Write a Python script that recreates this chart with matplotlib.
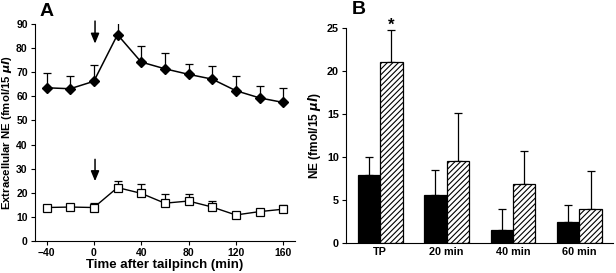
import matplotlib
matplotlib.use("Agg")
import matplotlib.pyplot as plt
import numpy as np

plt.rcParams['font.family'] = ['Liberation Sans', 'DejaVu Sans']
plt.rcParams['font.weight'] = 'bold'
plt.rcParams['hatch.linewidth'] = 0.8

# panel A data
time_min = [-40, -20, 0, 20, 40, 60, 80, 100, 120, 140, 160]
ne_diamond = [63.6, 63.2, 66.3, 85.7, 74.3, 71.5, 69.2, 67.2, 62.4, 59.4, 57.5]
ne_diamond_err = [6.1, 5.3, 6.6, 7.6, 6.7, 6.5, 4.1, 5.6, 6.2, 4.8, 5.8]
ne_square = [13.8, 14.0, 13.8, 22.1, 19.7, 15.6, 16.5, 14.0, 10.7, 12.1, 13.1]
ne_square_err = [1.0, 1.0, 2.0, 2.9, 3.8, 3.8, 3.1, 2.4, 1.0, 1.0, 1.9]

# panel B data
groups = ['TP', '20 min', '40 min', '60 min']
ne_black = [7.95, 5.6, 1.5, 2.5]
ne_black_err = [2.1, 2.9, 2.45, 1.9]
ne_hatch = [21.1, 9.6, 6.9, 3.95]
ne_hatch_err = [3.7, 5.6, 3.8, 4.4]

fig = plt.figure(figsize=(6.16, 2.73), dpi=100)
axA = fig.add_axes([0.0563, 0.1183, 0.4226, 0.7927])
axB = fig.add_axes([0.5612, 0.1088, 0.4344, 0.7875])

"""PANEL A"""
axA.errorbar(time_min, ne_diamond, yerr=[np.zeros(len(time_min)), ne_diamond_err],
             fmt='none', ecolor='black', elinewidth=0.9, capsize=3, capthick=0.9, zorder=1)
axA.errorbar(time_min, ne_square, yerr=[np.zeros(len(time_min)), ne_square_err],
             fmt='none', ecolor='black', elinewidth=0.9, capsize=3, capthick=0.9, zorder=1)
axA.plot(time_min, ne_diamond, color='black', lw=1.1, marker='D', ms=5.2,
         mfc='black', mec='black', zorder=3)
axA.plot(time_min, ne_square, color='black', lw=1.0, marker='s', ms=6,
         mfc='white', mec='black', mew=0.9, zorder=3)

arrow = dict(arrowstyle='-|>,head_length=0.6,head_width=0.25', color='black', lw=1.1)
axA.annotate('', xy=(1, 80.8), xytext=(1, 92.5), arrowprops=arrow)
axA.annotate('', xy=(1, 23.6), xytext=(1, 35.0), arrowprops=arrow)

axA.set_xlim(-50, 170)
axA.set_ylim(0, 90)
axA.set_xticks([-40, 0, 40, 80, 120, 160])
axA.set_yticks(range(0, 91, 10))
axA.spines['top'].set_visible(False)
axA.spines['right'].set_visible(False)
axA.tick_params(labelsize=7.5, length=3, width=0.8, pad=2)
axA.set_xlabel('Time after tailpinch (min)', fontsize=9.5, fontweight='bold', labelpad=1)
axA.set_ylabel('Extracellular NE (fmol/15 $\\mathit{\\mu l}$)', fontsize=8.2,
               fontweight='bold')
axA.yaxis.set_label_coords(-0.08, 0.5)
axA.text(0.02, 1.02, 'A', transform=axA.transAxes, fontsize=14, fontweight='bold',
         va='bottom', ha='left')

"""PANEL B"""
x = np.arange(len(groups))
w = 0.336
axB.bar(x - w / 2, ne_black, w, color='black', edgecolor='black', lw=0.9, zorder=2)
axB.bar(x + w / 2, ne_hatch, w, color='white', edgecolor='black', lw=0.9,
        hatch='//////', zorder=2)
axB.errorbar(x - w / 2, ne_black, yerr=[np.zeros(len(x)), ne_black_err], fmt='none',
             ecolor='black', elinewidth=0.9, capsize=3, capthick=0.9, zorder=1)
axB.errorbar(x + w / 2, ne_hatch, yerr=[np.zeros(len(x)), ne_hatch_err], fmt='none',
             ecolor='black', elinewidth=0.9, capsize=3, capthick=0.9, zorder=1)
axB.text(x[0] + w / 2, ne_hatch[0] + ne_hatch_err[0] - 0.3, '*', ha='center', va='bottom',
         fontsize=12, fontweight='bold')

axB.set_xlim(-0.52, 3.51)
axB.set_ylim(0, 25)
axB.set_xticks(x)
axB.set_xticklabels(groups)
axB.set_yticks(range(0, 26, 5))
axB.spines['top'].set_visible(False)
axB.spines['right'].set_visible(False)
axB.tick_params(axis='x', length=0, labelsize=7.8, pad=3)
axB.tick_params(axis='y', length=3, width=0.8, labelsize=7.8, pad=2)
axB.set_ylabel('NE (fmol/15 $\\mathit{\\mu l}$)', fontsize=8.6, fontweight='bold', labelpad=3)
axB.text(0.022, 1.048, 'B', transform=axB.transAxes, fontsize=14, fontweight='bold',
         va='bottom', ha='left')

fig.savefig('out.png', dpi=100)
